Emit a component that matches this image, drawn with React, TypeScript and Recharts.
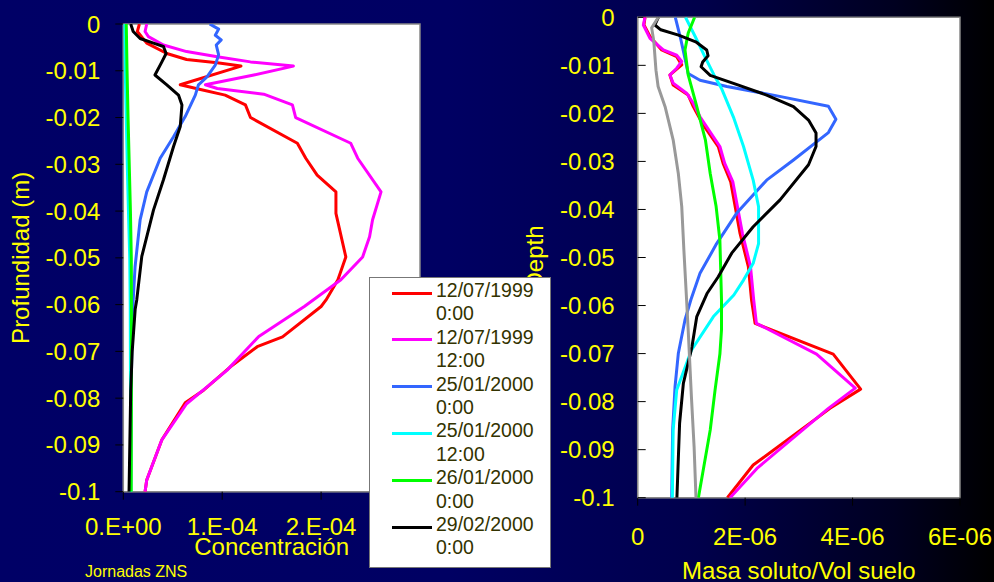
import {
	CartesianGrid,
	Label,
	Legend,
	ReferenceArea,
	Scatter,
	ScatterChart,
	XAxis,
	YAxis,
} from 'recharts'

// axis ticks
const depthTicks = [0, -0.01, -0.02, -0.03, -0.04, -0.05, -0.06, -0.07, -0.08, -0.09, -0.1]
const concTicks = [0, 1e-4, 2e-4]
const masaTicks = [0, 2e-6, 4e-6, 6e-6]

// legend
const legendDates = ['12/07/1999', '12/07/1999', '25/01/2000', '25/01/2000', '26/01/2000', '29/02/2000']
const legendTimes = ['0:00', '12:00', '0:00', '12:00', '0:00', '0:00']
const seriesColors = ['#ff0000', '#ff00ff', '#3366ff', '#00ffff', '#00ff00', '#000000']
const extraColor = '#999999'

// left chart: depth in cm, concentration in units of 1e-4
const redConcDepth = [0, 0.16, 0.41, 0.63, 0.76, 0.83, 0.9, 1.3, 1.4, 1.52, 1.73, 2.0, 2.55, 2.87, 3.23, 3.59, 4.05, 4.98, 5.47, 5.9, 6.04, 6.69, 6.9, 7.33, 7.83, 8.1, 8.89, 9.75, 10]
const redConc = [0.163, 0.142, 0.237, 0.44, 0.64, 0.95, 1.19, 0.576, 0.78, 1.03, 1.235, 1.286, 1.76, 1.845, 1.96, 2.15, 2.15, 2.25, 2.17, 2.05, 2.0, 1.61, 1.354, 1.083, 0.812, 0.626, 0.39, 0.237, 0.22]

const pinkConcDepth = [0, 0.16, 0.27, 0.45, 0.59, 0.7, 0.81, 0.9, 1.09, 1.3, 1.38, 1.5, 1.73, 2.0, 2.55, 2.87, 3.59, 4.19, 4.55, 4.98, 5.47, 6.04, 6.68, 7.4, 7.76, 8.12, 8.89, 9.75, 10]
const pinkConc = [0.237, 0.22, 0.254, 0.406, 0.64, 0.95, 1.286, 1.72, 1.32, 0.83, 0.95, 1.42, 1.71, 1.743, 2.3, 2.37, 2.606, 2.52, 2.49, 2.42, 2.2, 1.83, 1.37, 1.05, 0.847, 0.64, 0.39, 0.237, 0.22]

const blueConcDepth = [0, 0.11, 0.24, 0.34, 0.45, 0.66, 0.88, 1.13, 1.3, 1.52, 1.98, 2.41, 2.87, 3.59, 4.19, 5.19, 5.9, 7.0, 8.5, 10]
const blueConc = [0.873, 0.964, 0.93, 0.99, 0.94, 0.964, 0.93, 0.846, 0.76, 0.728, 0.626, 0.508, 0.373, 0.237, 0.17, 0.119, 0.1, 0.085, 0.078, 0.075]

const cyanConcDepth = [0, 1, 2, 3, 4, 5, 6, 8, 10]
const cyanConc = [0.014, 0.02, 0.03, 0.04, 0.052, 0.065, 0.07, 0.073, 0.075]

const greenConcDepth = [0, 1, 2, 3, 4, 5, 6, 8, 10]
const greenConc = [0.03, 0.038, 0.048, 0.06, 0.072, 0.081, 0.082, 0.082, 0.08]

const blackConcDepth = [0, 0.16, 0.31, 0.41, 0.48, 0.63, 0.81, 1.09, 1.3, 1.52, 1.73, 2.19, 2.62, 3.33, 3.98, 4.97, 5.9, 6.1, 7.0, 7.83, 10]
const blackConc = [0.075, 0.1, 0.17, 0.305, 0.406, 0.433, 0.39, 0.32, 0.44, 0.558, 0.593, 0.576, 0.508, 0.406, 0.305, 0.187, 0.136, 0.12, 0.09, 0.075, 0.058]

// right chart: depth in cm, mass in units of 1e-6
const redMasaDepth = [0, 0.16, 0.4, 0.68, 0.82, 0.99, 1.2, 1.41, 1.62, 1.86, 2.24, 2.69, 3.04, 3.42, 4.5, 5.19, 5.89, 6.37, 7.01, 7.74, 8.14, 9.32, 10]
const redMasa = [0.136, 0.117, 0.229, 0.447, 0.726, 0.82, 0.6, 0.66, 0.94, 1.035, 1.22, 1.5, 1.59, 1.73, 1.905, 2.06, 2.12, 2.185, 3.64, 4.15, 3.58, 2.15, 1.67]

const pinkMasaDepth = [0, 0.16, 0.44, 0.68, 0.79, 0.92, 1.06, 1.2, 1.37, 1.58, 1.79, 2.07, 2.69, 3.04, 3.42, 4.5, 5.19, 5.89, 6.37, 7.01, 7.72, 8.14, 9.39, 10]
const pinkMasa = [0.136, 0.105, 0.229, 0.477, 0.726, 0.82, 0.726, 0.6, 0.66, 0.91, 1.035, 1.16, 1.53, 1.62, 1.77, 1.95, 2.1, 2.16, 2.21, 3.33, 4.05, 3.55, 2.22, 1.72]

const blueMasaDepth = [0, 0.4, 0.75, 1.17, 1.31, 1.44, 1.62, 1.85, 2.12, 2.4, 2.97, 3.39, 4.08, 4.71, 5.33, 5.88, 6.3, 7.0, 7.69, 8.6, 10]
const blueMasa = [0.7, 0.79, 0.86, 0.94, 1.16, 1.66, 2.525, 3.55, 3.69, 3.55, 2.9, 2.4, 1.84, 1.47, 1.16, 0.99, 0.88, 0.756, 0.695, 0.65, 0.633]

const cyanMasaDepth = [0, 0.4, 0.82, 1.2, 1.48, 2.1, 2.69, 3.39, 3.94, 4.71, 5.12, 5.47, 5.78, 6.23, 6.93, 7.76, 8.59, 10]
const cyanMasa = [0.89, 1.07, 1.25, 1.42, 1.56, 1.79, 1.97, 2.15, 2.25, 2.25, 2.15, 1.97, 1.79, 1.41, 1.0, 0.726, 0.66, 0.645]

const greenMasaDepth = [0, 0.33, 0.68, 1.2, 1.86, 2.55, 3.25, 3.94, 4.64, 5.88, 6.5, 7.01, 7.76, 8.59, 10]
const greenMasa = [1.06, 0.94, 0.88, 0.94, 1.1, 1.26, 1.35, 1.46, 1.53, 1.56, 1.56, 1.53, 1.44, 1.35, 1.13]

const blackMasaDepth = [0, 0.16, 0.26, 0.37, 0.51, 0.68, 0.8, 0.93, 1.03, 1.21, 1.4, 1.62, 1.86, 2.14, 2.41, 2.69, 3.07, 3.8, 4.36, 4.91, 5.4, 5.75, 6.23, 6.86, 7.62, 8.45, 10]
const blackMasa = [0.384, 0.32, 0.43, 0.76, 1.08, 1.285, 1.31, 1.21, 1.18, 1.35, 1.85, 2.4, 2.9, 3.18, 3.32, 3.32, 3.18, 2.65, 2.15, 1.75, 1.5, 1.29, 1.1, 1.01, 0.85, 0.78, 0.73]

const grayMasaDepth = [0, 0.22, 0.5, 1.1, 1.44, 1.86, 2.55, 3.25, 3.94, 4.85, 5.88, 6.51, 7.9, 8.94, 10]
const grayMasa = [0.384, 0.26, 0.3, 0.34, 0.38, 0.51, 0.66, 0.756, 0.82, 0.86, 0.91, 0.94, 1.0, 1.05, 1.085]

const toPoints = (depthCm: number[], vals: number[], unit: number) =>
	depthCm.map((d, i) => ({ x: vals[i] * unit, y: -d / 100 }))

const leftSeries = [
	toPoints(redConcDepth, redConc, 1e-4),
	toPoints(pinkConcDepth, pinkConc, 1e-4),
	toPoints(blueConcDepth, blueConc, 1e-4),
	toPoints(cyanConcDepth, cyanConc, 1e-4),
	toPoints(greenConcDepth, greenConc, 1e-4),
	toPoints(blackConcDepth, blackConc, 1e-4),
]

const rightSeries = [
	toPoints(redMasaDepth, redMasa, 1e-6),
	toPoints(pinkMasaDepth, pinkMasa, 1e-6),
	toPoints(blueMasaDepth, blueMasa, 1e-6),
	toPoints(cyanMasaDepth, cyanMasa, 1e-6),
	toPoints(greenMasaDepth, greenMasa, 1e-6),
	toPoints(blackMasaDepth, blackMasa, 1e-6),
	toPoints(grayMasaDepth, grayMasa, 1e-6),
]

const yellow = '#ffff00'
const font = '"Liberation Sans", Arial, sans-serif'
const noDot = () => <g />

const fmtConc = (v: number) => (v === 0 ? '0.E+00' : `${Math.round(v * 1e4)}.E-04`)
const fmtMasa = (v: number) => (v === 0 ? '0' : `${Math.round(v * 1e6)}E-06`)

function LegendBox() {
	return (
		<div
			style={{
				width: 182,
				height: 291,
				boxSizing: 'border-box',
				background: '#fff',
				border: '1px solid #777',
				position: 'relative',
				fontFamily: font,
			}}
		>
			{legendDates.map((date, i) => (
				<div key={i} style={{ position: 'absolute', left: 0, top: 1 + i * 46.8, width: '100%', height: 46.8 }}>
					<div style={{ position: 'absolute', left: 22, top: 12.5, width: 40, height: 3, background: seriesColors[i] }} />
					<div style={{ position: 'absolute', left: 66, top: 0, fontSize: 19.5, lineHeight: '23.4px', color: '#333300' }}>
						<div>{date}</div>
						<div>{legendTimes[i]}</div>
					</div>
				</div>
			))}
		</div>
	)
}

export default function App() {
	return (
		<div
			style={{
				position: 'fixed',
				left: 0,
				top: 0,
				width: 994,
				height: 582,
				overflow: 'hidden',
				fontFamily: font,
				background: 'linear-gradient(90deg, #000066 0%, #000063 45%, #00004c 70%, #000020 90%, #000000 100%)',
			}}
		>
			<div style={{ position: 'absolute', left: 0, top: 0, zIndex: 2 }}>
				<ScatterChart width={430} height={582} margin={{ top: 24, right: 10, bottom: 0, left: 0 }}>
					<CartesianGrid fill='#ffffff' stroke='none' horizontal={false} vertical={false} />
					<XAxis
						type='number'
						dataKey='x'
						domain={[0, 3e-4]}
						ticks={concTicks}
						interval={0}
						allowDataOverflow
						height={90.3}
						tickFormatter={fmtConc}
						tick={{ fill: yellow, fontSize: 24 }}
						tickSize={8}
						tickMargin={18}
						tickLine={{ stroke: '#000' }}
						axisLine={{ stroke: '#888' }}
					>
						<Label value='Concentración' position='insideTop' offset={46} fill={yellow} fontSize={24} />
					</XAxis>
					<YAxis
						type='number'
						dataKey='y'
						domain={[-0.1, 0]}
						ticks={depthTicks}
						interval={0}
						allowDataOverflow
						width={123.3}
						tick={{ fill: yellow, fontSize: 24 }}
						tickSize={8}
						tickMargin={15}
						tickLine={{ stroke: '#000' }}
						axisLine={{ stroke: '#888' }}
					>
						<Label value='Profundidad (m)' angle={-90} position='insideLeft' offset={20} textAnchor='middle' fill={yellow} fontSize={24} />
					</YAxis>
					<ReferenceArea x1={0} x2={3e-4} y1={-0.1} y2={0} fill='none' stroke='#888' strokeWidth={1.5} />
					{leftSeries.map((pts, i) => (
						<Scatter
							key={i}
							data={pts}
							fill={seriesColors[i]}
							line={{ stroke: seriesColors[i], strokeWidth: 3, strokeLinejoin: 'round' }}
							shape={noDot}
							isAnimationActive={false}
						/>
					))}
					<Legend
						layout='vertical'
						align='center'
						verticalAlign='middle'
						content={() => <LegendBox />}
						wrapperStyle={{ left: 369, top: 277, width: 182, height: 291 }}
					/>
				</ScatterChart>
			</div>
			<div style={{ position: 'absolute', left: 520, top: 0, zIndex: 1 }}>
				<ScatterChart width={474} height={582} margin={{ top: 17.3, right: 34, bottom: 0, left: 0 }}>
					<CartesianGrid fill='#ffffff' stroke='none' horizontal={false} vertical={false} />
					<XAxis
						type='number'
						dataKey='x'
						domain={[0, 6e-6]}
						ticks={masaTicks}
						interval={0}
						allowDataOverflow
						height={84.3}
						tickFormatter={fmtMasa}
						tick={{ fill: yellow, fontSize: 24 }}
						tickSize={8}
						tickMargin={22}
						tickLine={{ stroke: '#000' }}
						axisLine={{ stroke: '#888' }}
					>
						<Label value='Masa soluto/Vol suelo' position='insideTop' offset={64} fill={yellow} fontSize={24} />
					</XAxis>
					<YAxis
						type='number'
						dataKey='y'
						domain={[-0.1, 0]}
						ticks={depthTicks}
						interval={0}
						allowDataOverflow
						width={117.7}
						tick={{ fill: yellow, fontSize: 24 }}
						tickSize={-8}
						tickMargin={31}
						tickLine={{ stroke: '#000' }}
						axisLine={{ stroke: '#888' }}
					>
						<Label value='Depth' angle={-90} position='insideLeft' offset={14} textAnchor='middle' fill={yellow} fontSize={24} />
					</YAxis>
					<ReferenceArea x1={0} x2={6e-6} y1={-0.1} y2={0} fill='none' stroke='#888' strokeWidth={1.5} />
					{rightSeries.map((pts, i) => {
						const c = seriesColors[i] ?? extraColor
						return (
							<Scatter
								key={i}
								data={pts}
								fill={c}
								line={{ stroke: c, strokeWidth: 3, strokeLinejoin: 'round' }}
								shape={noDot}
								isAnimationActive={false}
							/>
						)
					})}
				</ScatterChart>
			</div>
			<div style={{ position: 'absolute', left: 85, top: 563, fontSize: 16, color: yellow, zIndex: 3 }}>Jornadas ZNS</div>
		</div>
	)
}
